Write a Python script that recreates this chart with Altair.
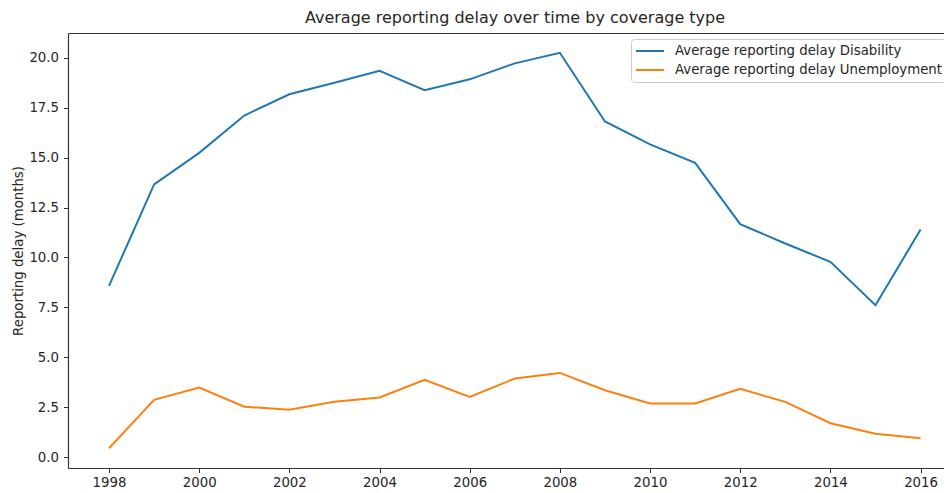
import altair as alt
import pandas as pd

years = list(range(1998, 2017))
disability = [8.58, 13.66, 15.24, 17.11, 18.17, 18.75, 19.35, 18.38, 18.92, 19.72,
              20.25, 16.81, 15.66, 14.74, 11.67, 10.70, 9.78, 7.61, 11.40]
unemployment = [0.45, 2.87, 3.49, 2.53, 2.38, 2.78, 2.99, 3.87, 3.02, 3.94,
                4.22, 3.35, 2.69, 2.69, 3.42, 2.77, 1.70, 1.18, 0.95]
series_names = ["Average reporting delay Disability",
                "Average reporting delay Unemployment"]
colors = ["#1f77b4", "#ff7f0e"]

rows = []
for name, vals in zip(series_names, [disability, unemployment]):
    for y, v in zip(years, vals):
        rows.append({"year": y, "delay": v, "series": name})
df = pd.DataFrame(rows)

FONT = "DejaVu Sans"
TXT = "#262626"
AX = "#333333"
FS = 13.3
XDOM = [1997.09, 2016.52]
YDOM = [-0.54, 21.24]

lines = alt.Chart(df).mark_line(strokeWidth=2, clip=True).encode(
    x=alt.X("year:Q",
            scale=alt.Scale(domain=XDOM, nice=False, zero=False),
            axis=alt.Axis(values=list(range(1998, 2017, 2)), format="d", title=None,
                          grid=False, tickSize=4.5, labelPadding=3, domainColor=AX,
                          tickColor=AX, labelColor=TXT, labelFontSize=FS,
                          labelFont=FONT, domainWidth=1.2)),
    y=alt.Y("delay:Q",
            scale=alt.Scale(domain=YDOM, nice=False, zero=False),
            axis=alt.Axis(values=[0, 2.5, 5, 7.5, 10, 12.5, 15, 17.5, 20], format=".1f",
                          title="Reporting delay (months)", grid=False, tickSize=4.5,
                          labelPadding=5, titlePadding=3, domainColor=AX,
                          tickColor=AX, labelColor=TXT, labelFontSize=FS,
                          labelFont=FONT, titleFont=FONT, titleFontSize=FS,
                          titleFontWeight="normal", titleColor=TXT, domainWidth=1.2)),
    color=alt.Color("series:N",
                    scale=alt.Scale(domain=series_names, range=colors),
                    legend=alt.Legend(title=None, orient="none", legendX=563, legendY=6,
                                      symbolType="stroke", symbolSize=784,
                                      symbolStrokeWidth=2, labelFont=FONT,
                                      labelFontSize=FS, labelColor=TXT,
                                      labelOffset=10, rowPadding=3, labelLimit=600,
                                      clipHeight=16,
                                      padding=4, strokeColor="#cccccc",
                                      fillColor="white", cornerRadius=3)),
)

top = alt.Chart(df).mark_line(opacity=0).encode(
    x=alt.X("year:Q", scale=alt.Scale(domain=XDOM, nice=False, zero=False),
            axis=alt.Axis(orient="top", labels=False, ticks=False, title=None, grid=False,
                          domainColor=AX, domainWidth=1.2)),
    y=alt.Y("delay:Q", scale=alt.Scale(domain=YDOM, nice=False, zero=False), axis=None),
)

chart = alt.layer(lines, top).resolve_axis(x="independent", y="independent").properties(
    width=876,
    height=435,
    title=alt.TitleParams("Average reporting delay over time by coverage type",
                          font=FONT, fontSize=16, fontWeight="normal", color=TXT,
                          offset=7, dx=9, anchor="middle"),
    autosize="none",
    padding={"left": 60, "top": 25, "right": 0, "bottom": 25},
).configure_view(stroke=None)

chart.save("out.html", embed_options={"renderer": "svg", "actions": False})
